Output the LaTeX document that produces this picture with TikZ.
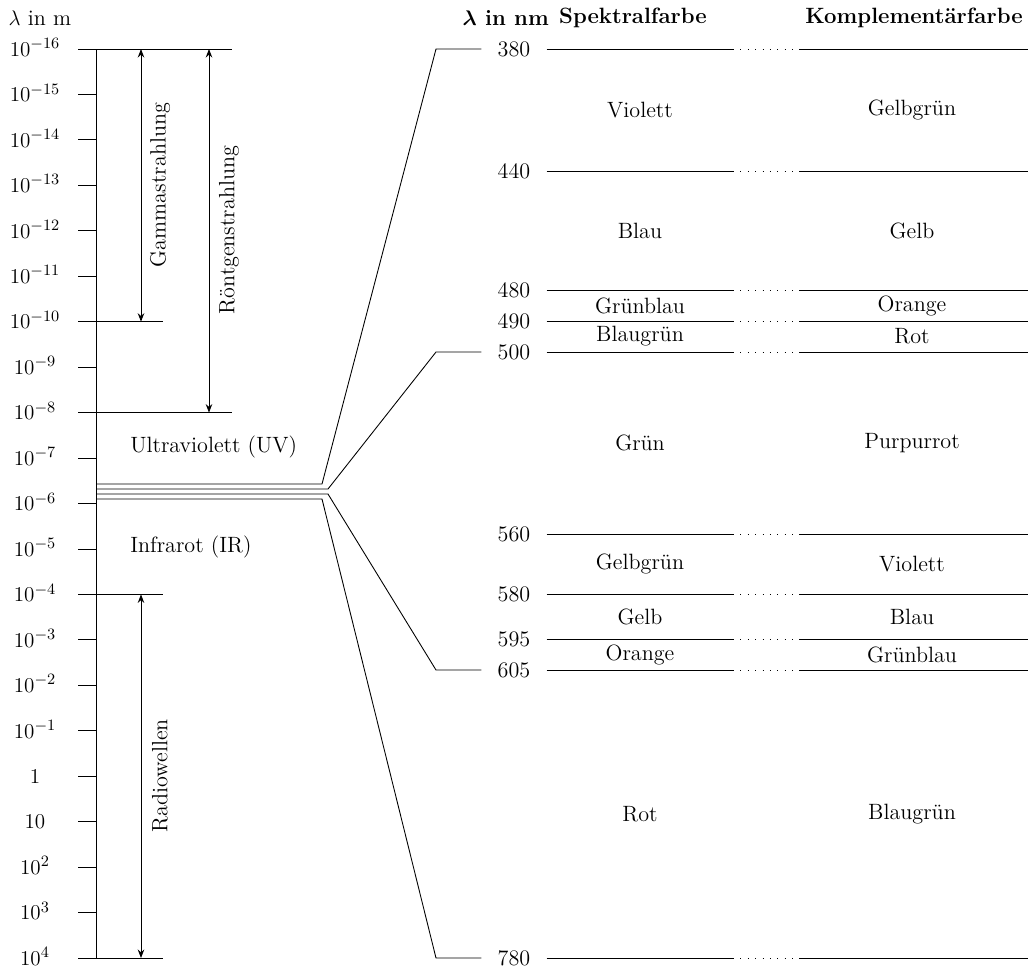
\documentclass[tikz,border=0pt]{standalone}
\usepackage{amsmath,amssymb}
\usepackage{tikz}
\usetikzlibrary{arrows.meta}

\begin{document}
\begin{tikzpicture}[x=0.02cm,y=-0.02cm,line width=0.5pt,
    every node/.style={font=\fontsize{12.6}{15}\selectfont},
    bandarrow/.style={{Stealth[length=1.7mm,width=1.3mm]}-{Stealth[length=1.7mm,width=1.3mm]}},
    nmlabel/.style={inner xsep=9pt,inner ysep=0pt},
    colhead/.style={font=\fontsize{12.6}{15}\selectfont\bfseries,inner xsep=1pt},
    gap/.style={dash pattern=on 0.5pt off 3.7pt}]
\useasboundingbox (0,0) rectangle (1033,968);

% Skala in m
\node (lamm) at (40,18) {$\lambda$ in m};
\foreach \lab [count=\i from 0] in {10^{-16},10^{-15},10^{-14},10^{-13},10^{-12},10^{-11},
        10^{-10},10^{-9},10^{-8},10^{-7},10^{-6},10^{-5},10^{-4},10^{-3},10^{-2},10^{-1},
        1,10,10^{2},10^{3},10^{4}}
  {\node[anchor=mid] (e\i) at (35,{52.5+\i*45.45}) {$\lab$};
   \draw (78,{49+\i*45.45}) -- (96,{49+\i*45.45});}
\draw (96,49) -- (96,958);

\draw (96,49) -- (232,49);
\draw (96,321.7) -- (163,321.7);
\draw (96,412.6) -- (232,412.6);
\draw (96,594.4) -- (163,594.4);
\draw (96,958) -- (163,958);

\draw[bandarrow] (141,49) -- (141,321.7);
\node[rotate=90] (gamma) at (160,185) {Gammastrahlung};
\draw[bandarrow] (209,49) -- (209,412.6);
\node[rotate=90] (roentgen) at (229,230) {Röntgenstrahlung};
\draw[bandarrow] (141,594.4) -- (141,958);
\node[rotate=90] (radio) at (160,776) {Radiowellen};

\node[anchor=west] (uv) at (124,447) {Ultraviolett (UV)};
\node[anchor=west] (ir) at (124,547) {Infrarot (IR)};

% sichtbarer Bereich in nm
\node[colhead,anchor=east] (lamnm) at (551,18) {$\boldsymbol{\lambda}$ in nm};
\node[colhead,anchor=west] (spek) at (557,18) {Spektralfarbe};
\node[colhead] (kompl) at (914,18) {Komplementärfarbe};

\foreach \nm/\y in {380/49,440/171,480/290,490/321,500/352,560/534,580/594,595/639,605/670,780/958}
  {\node[nmlabel] (n\nm) at (514,\y) {\nm};
   \draw (n\nm.east) -- (733,\y);
   \draw[gap] (733,\y) -- (800,\y);
   \draw (800,\y) -- (1028,\y);}

\draw (n380.west) -- (436,49) -- (322,484) -- (96,484);
\draw (n500.west) -- (436,352) -- (328,489) -- (96,489);
\draw (n605.west) -- (436,670) -- (328,494) -- (96,494);
\draw (n780.west) -- (436,958) -- (322,499) -- (96,499);

\foreach \ya/\yb/\sp/\ko in {49/171/Violett/Gelbgrün,171/290/Blau/Gelb,290/321/Grünblau/Orange,
        321/352/Blaugrün/Rot,352/534/Grün/Purpurrot,534/594/Gelbgrün/Violett,594/639/Gelb/Blau,
        639/670/Orange/Grünblau,670/958/Rot/Blaugrün}
  {\node (sp\ya) at (640,{(\ya+\yb)/2}) {\sp};
   \node (ko\ya) at (912,{(\ya+\yb)/2}) {\ko};}

\end{tikzpicture}
\end{document}
